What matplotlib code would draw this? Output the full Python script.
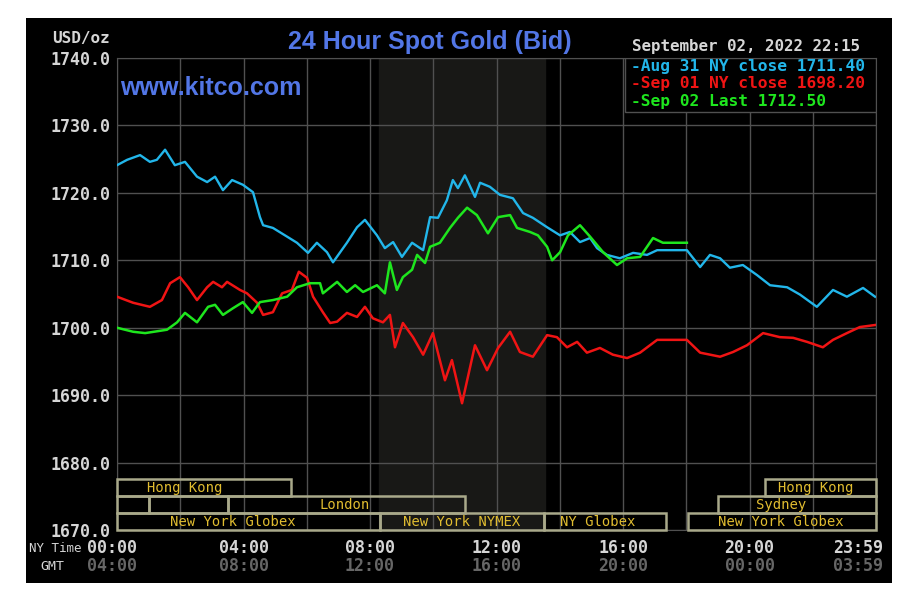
import numpy as np
import matplotlib
matplotlib.use('Agg')
from matplotlib import pyplot as plt
from matplotlib.patches import Rectangle

###資料 (NY time in hours, USD/oz)
aug31_t = [0.00, 0.32, 0.73, 1.04, 1.26, 1.52, 1.83, 2.15, 2.53, 2.85, 3.10, 3.35, 3.64, 3.98,
           4.30, 4.52, 4.62, 4.93, 5.38, 5.69, 6.04, 6.32, 6.64, 6.83, 7.27, 7.59, 7.84, 8.22,
           8.47, 8.73, 9.01, 9.33, 9.68, 9.90, 10.15, 10.43, 10.62, 10.78, 11.00, 11.32, 11.48,
           11.79, 12.11, 12.52, 12.84, 13.15, 13.60, 14.01, 14.32, 14.64, 14.96, 15.18, 15.49,
           15.90, 16.32, 16.76, 17.08, 18.02, 18.44, 18.75, 19.07, 19.38, 19.79, 20.24, 20.65,
           21.19, 21.60, 22.13, 22.64, 23.08, 23.59, 23.97]
aug31_v = [1724.1, 1724.9, 1725.6, 1724.6, 1724.9, 1726.4, 1724.1, 1724.6, 1722.4, 1721.6, 1722.4,
           1720.4, 1721.9, 1721.2, 1720.1, 1716.4, 1715.2, 1714.8, 1713.5, 1712.6, 1711.1, 1712.6,
           1711.2, 1709.7, 1712.6, 1714.9, 1716.0, 1713.7, 1711.8, 1712.7, 1710.5, 1712.6, 1711.5,
           1716.4, 1716.3, 1718.9, 1721.9, 1720.7, 1722.6, 1719.4, 1721.5, 1720.9, 1719.7, 1719.2,
           1717.0, 1716.3, 1714.9, 1713.7, 1714.2, 1712.7, 1713.3, 1711.8, 1710.8, 1710.3, 1711.1,
           1710.8, 1711.5, 1711.5, 1709.0, 1710.8, 1710.3, 1708.9, 1709.3, 1707.8, 1706.3, 1706.0,
           1704.9, 1703.1, 1705.6, 1704.6, 1705.9, 1704.6]

sep01_t = [0.00, 0.51, 1.04, 1.42, 1.68, 1.99, 2.25, 2.53, 2.85, 3.04, 3.32, 3.48, 3.89, 4.11,
           4.43, 4.62, 4.93, 5.22, 5.53, 5.75, 6.01, 6.20, 6.51, 6.74, 6.96, 7.27, 7.59, 7.84,
           8.09, 8.41, 8.63, 8.79, 9.04, 9.36, 9.68, 9.99, 10.37, 10.59, 10.91, 11.32, 11.70,
           12.05, 12.43, 12.74, 13.15, 13.60, 13.91, 14.23, 14.55, 14.86, 15.27, 15.68, 16.13,
           16.54, 17.08, 18.02, 18.44, 19.07, 19.48, 19.92, 20.43, 20.96, 21.38, 21.82, 22.32,
           22.64, 23.08, 23.49, 23.97]
sep01_v = [1704.6, 1703.7, 1703.1, 1704.1, 1706.6, 1707.5, 1706.0, 1704.1, 1706.0, 1706.8, 1706.0,
           1706.8, 1705.6, 1705.1, 1703.7, 1701.9, 1702.3, 1705.1, 1705.6, 1708.3, 1707.4, 1704.6,
           1702.3, 1700.7, 1700.9, 1702.2, 1701.6, 1703.1, 1701.4, 1700.8, 1701.9, 1697.1, 1700.7,
           1698.6, 1696.0, 1699.2, 1692.2, 1695.2, 1688.8, 1697.4, 1693.7, 1697.0, 1699.4, 1696.4,
           1695.7, 1698.9, 1698.6, 1697.1, 1697.9, 1696.3, 1697.0, 1696.0, 1695.5, 1696.3, 1698.2,
           1698.2, 1696.3, 1695.7, 1696.4, 1697.4, 1699.2, 1698.6, 1698.5, 1697.9, 1697.1, 1698.2,
           1699.2, 1700.1, 1700.4]

sep02_t = [0.00, 0.51, 0.89, 1.58, 1.90, 2.15, 2.53, 2.88, 3.10, 3.35, 3.67, 3.98, 4.27, 4.52,
           4.93, 5.38, 5.69, 6.10, 6.42, 6.51, 6.96, 7.27, 7.53, 7.78, 8.22, 8.47, 8.63, 8.85,
           9.04, 9.33, 9.49, 9.74, 9.90, 10.21, 10.53, 10.78, 11.07, 11.38, 11.73, 12.05, 12.43,
           12.65, 13.06, 13.31, 13.60, 13.76, 14.01, 14.26, 14.64, 14.96, 15.37, 15.81, 16.13,
           16.54, 16.95, 17.26, 18.02]
sep02_v = [1700.0, 1699.4, 1699.2, 1699.7, 1700.8, 1702.2, 1700.8, 1703.1, 1703.4, 1701.9, 1702.9,
           1703.8, 1702.2, 1703.8, 1704.1, 1704.6, 1706.0, 1706.6, 1706.6, 1705.1, 1706.8, 1705.3,
           1706.3, 1705.3, 1706.3, 1705.1, 1709.7, 1705.6, 1707.5, 1708.6, 1710.8, 1709.6, 1712.0,
           1712.6, 1714.8, 1716.3, 1717.8, 1716.7, 1714.0, 1716.4, 1716.7, 1714.8, 1714.2, 1713.7,
           1712.0, 1710.0, 1711.2, 1713.7, 1715.2, 1713.5, 1711.2, 1709.3, 1710.3, 1710.5, 1713.3,
           1712.6, 1712.6]

legend_labels = ['-Aug 31 NY close 1711.40', '-Sep 01 NY close 1698.20', '-Sep 02 Last 1712.50']
ny_labels = ['00:00', '04:00', '08:00', '12:00', '16:00', '20:00', '23:59']
gmt_labels = ['04:00', '08:00', '12:00', '16:00', '20:00', '00:00', '03:59']

###交易時段 (row, start, end, name, label center)
sessions = [
    (0, 0.0, 5.5, 'Hong Kong', 2.15),
    (1, 0.0, 1.0, '', 0),
    (1, 1.0, 3.5, '', 0),
    (1, 3.5, 11.0, 'London', 7.2),
    (2, 0.0, 8.33, 'New York Globex', 3.65),
    (2, 8.33, 13.5, 'New York NYMEX', 10.9),
    (2, 13.5, 17.35, 'NY Globex', 15.2),
    (2, 18.05, 24.0, 'New York Globex', 21.0),
    (1, 19.0, 24.0, 'Sydney', 21.0),
    (0, 20.5, 24.0, 'Hong Kong', 22.1),
]
nymex_open, nymex_close = 8.28, 13.52

mono = 'DejaVu Sans Mono'
c_blue, c_red, c_green = '#22b6ea', '#f01414', '#1ee61e'
c_label = '#d6d6d6'

fig = plt.figure(figsize=(9.18, 6.07), dpi=100)
fig.patch.set_facecolor('white')
fig.patches.append(Rectangle((26/918, 1-583/607), (892-26)/918, (583-18)/607,
                             transform=fig.transFigure, facecolor='black', edgecolor='none', zorder=-5))

ax = fig.add_axes([117/918, 77/607, (876-117)/918, (530-58)/607])
ax.set_zorder(2)
ax.set_facecolor('black')
ax.set_xlim(0, 24)
ax.set_ylim(1670, 1740)

# NYMEX 交易時段底色
ax.axvspan(nymex_open, nymex_close, color='#181816', zorder=0)

ax.set_xticks(np.arange(0, 25, 2))
ax.set_yticks(np.arange(1670, 1741, 10))
ax.grid(True, color='#505050', linewidth=1.0, zorder=1)
ax.set_axisbelow(True)
ax.tick_params(length=0, labelbottom=False)
ax.set_yticklabels(['%.1f' % v for v in np.arange(1670, 1741, 10)])
for lb in ax.get_yticklabels():
    lb.set_fontfamily(mono)
    lb.set_fontweight('bold')
    lb.set_fontsize(12)
    lb.set_color(c_label)
ax.tick_params(axis='y', pad=5)
for s in ax.spines.values():
    s.set_color('#505050')

ax.plot(aug31_t, aug31_v, color=c_blue, lw=1.7, zorder=4)
ax.plot(sep01_t, sep01_v, color=c_red, lw=1.8, zorder=5)
ax.plot(sep02_t, sep02_v, color=c_green, lw=1.8, zorder=6)

# 交易時段方塊
row_h = 2.5
for row, t0, t1, name, tx in sessions:
    y0 = 1670 + (2 - row) * row_h
    ax.add_patch(Rectangle((t0, y0), t1 - t0, row_h, facecolor='none',
                           edgecolor='#a9a98a', lw=1.8, zorder=3, clip_on=False))
    if name:
        ax.text(tx, y0 + row_h / 2, name, color='#e0bc30', fontsize=10, family=mono,
                ha='center', va='center', zorder=7)

# legend box
ax.add_patch(Rectangle((16.06, 1732.0), 24 - 16.06, 8.0, facecolor='black',
                       edgecolor='#505050', lw=1.0, zorder=8))
for i, (txt, c) in enumerate(zip(legend_labels, [c_blue, c_red, c_green])):
    ax.text(16.25, 1738.7 - i * 2.55, txt, color=c, family=mono, fontweight='bold',
            fontsize=11.7, va='center', ha='left', zorder=9)

# x 軸標籤 (NY / GMT)
xpos = [-0.15, 4, 8, 12, 16, 20, 24.22]
for x, a, b in zip(xpos, ny_labels, gmt_labels):
    ha = 'right' if x > 24 else 'center'
    ax.text(x, -0.038, a, transform=ax.get_xaxis_transform(), color=c_label, family=mono,
            fontweight='bold', fontsize=12, ha=ha, va='center', clip_on=False)
    ax.text(x, -0.076, b, transform=ax.get_xaxis_transform(), color='#666666', family=mono,
            fontweight='bold', fontsize=12, ha=ha, va='center', clip_on=False)

fig.text(29/918, 1-548/607, 'NY Time', color=c_label, family=mono, fontsize=9, va='center', ha='left')
fig.text(40/918, 1-566/607, 'GMT', color=c_label, family=mono, fontsize=9.5, va='center', ha='left')
fig.text(110/918, 1-38/607, 'USD/oz', color=c_label, family=mono, fontweight='bold', fontsize=11.5,
         va='center', ha='right')
fig.text(430/918, 1-42/607, '24 Hour Spot Gold (Bid)', color='#5276e6', family='Liberation Sans',
         fontweight='bold', fontsize=18, ha='center', va='center')
fig.text(120/918, 1-88/607, 'www.kitco.com', color='#5276e6', family='Liberation Sans',
         fontweight='bold', fontsize=18, ha='left', va='center', zorder=10)

fig.text(632/918, 1-47/607, 'September 02, 2022 22:15', color=c_label, family=mono,
         fontweight='bold', fontsize=11.4, ha='left', va='center')

fig.savefig('out.png', dpi=100, facecolor=fig.get_facecolor())
